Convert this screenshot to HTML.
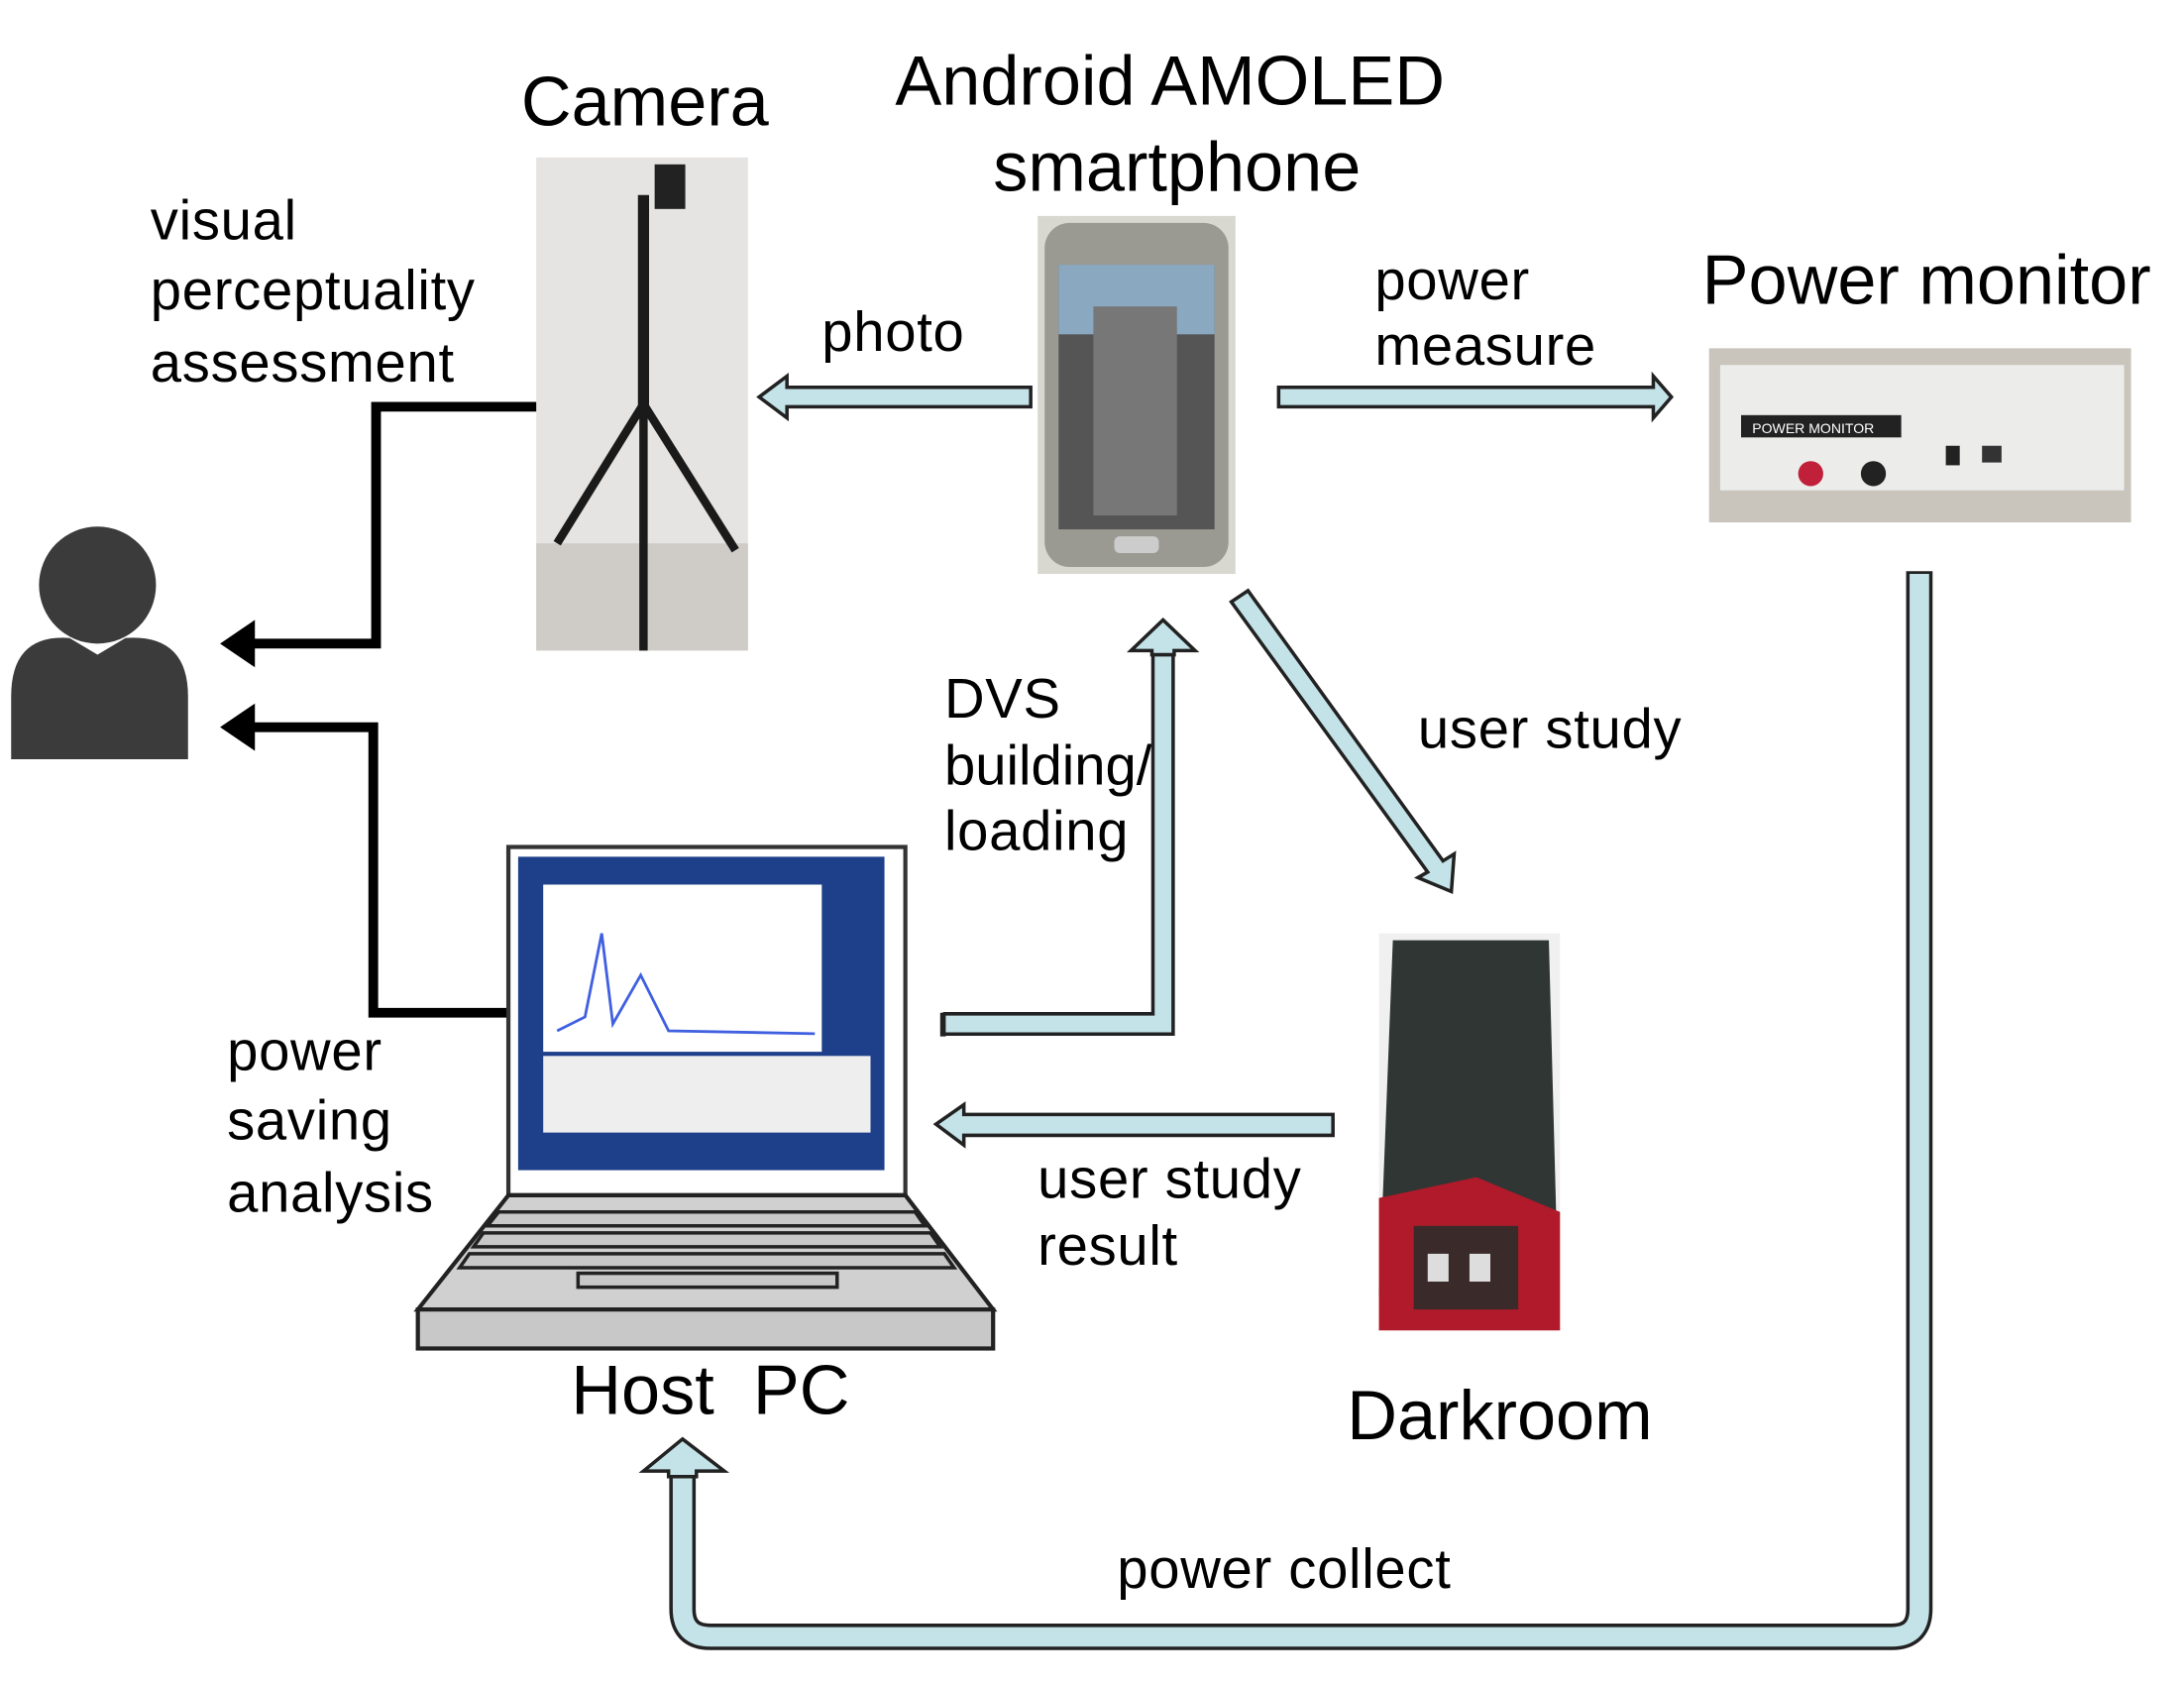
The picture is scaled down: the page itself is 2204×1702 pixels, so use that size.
<!DOCTYPE html>
<html><head><meta charset="utf-8"><style>
html,body{margin:0;padding:0;background:#fff}
svg{display:block}
text{font-family:"Liberation Sans",Arial,sans-serif;fill:#000}
</style></head><body>
<svg width="2204" height="1702" viewBox="0 0 1568 1211" preserveAspectRatio="none" xmlns="http://www.w3.org/2000/svg">
<rect width="1568" height="1211" fill="#fff"/>
<text x="463" y="90" font-size="50" text-anchor="middle">Camera</text>
<text x="840" y="75" font-size="50" text-anchor="middle">Android AMOLED</text>
<text x="845" y="137" font-size="50" text-anchor="middle">smartphone</text>
<text x="1222" y="218" font-size="50">Power monitor</text>
<text x="410" y="1015" font-size="50" xml:space="preserve">Host  PC</text>
<text x="967" y="1033" font-size="50">Darkroom</text>
<g font-size="40" letter-spacing="0.5">
<text x="108" y="172">visual</text>
<text x="108" y="222">perceptuality</text>
<text x="108" y="274">assessment</text>
<text x="590" y="252">photo</text>
<text x="987" y="215">power</text>
<text x="987" y="262">measure</text>
<text x="678" y="515">DVS</text>
<text x="678" y="563" letter-spacing="0">building/</text>
<text x="678" y="610">loading</text>
<text x="1018" y="537">user study</text>
<text x="163" y="768">power</text>
<text x="163" y="818">saving</text>
<text x="163" y="870">analysis</text>
<text x="745" y="860">user study</text>
<text x="745" y="908">result</text>
<text x="802" y="1140">power collect</text>
</g>
<rect x="385" y="113" width="152" height="354" fill="#e6e4e2"/>
<rect x="385" y="390" width="152" height="77" fill="#cfccc8"/>
<rect x="470" y="118" width="22" height="32" fill="#222"/>
<rect x="458" y="140" width="8" height="160" fill="#1a1a1a"/>
<path d="M462 290 L400 390 M462 290 L462 467 M462 290 L528 395" stroke="#1a1a1a" stroke-width="6" fill="none"/>
<rect x="745" y="155" width="142" height="257" fill="#d8d8d0"/>
<rect x="750" y="160" width="132" height="247" rx="18" fill="#9a9a92"/>
<rect x="760" y="190" width="112" height="190" fill="#555"/>
<rect x="760" y="190" width="112" height="50" fill="#8aa8c0"/>
<rect x="785" y="220" width="60" height="150" fill="#777"/>
<rect x="800" y="385" width="32" height="12" rx="4" fill="#ccc"/>
<rect x="1227" y="250" width="303" height="125" fill="#c9c4bc"/>
<rect x="1235" y="262" width="290" height="90" fill="#ecedeb"/>
<rect x="1250" y="298" width="115" height="16" fill="#222"/>
<text x="1258" y="311" font-size="10" style="fill:#fff">POWER MONITOR</text>
<circle cx="1300" cy="340" r="9" fill="#c0203a"/>
<circle cx="1345" cy="340" r="9" fill="#222"/>
<rect x="1397" y="320" width="10" height="14" fill="#222"/>
<rect x="1423" y="320" width="14" height="12" fill="#333"/>
<rect x="990" y="670" width="130" height="285" fill="#f0f0f0"/>
<path d="M1000 675 L1112 675 L1118 900 L990 930 Z" fill="#2f3634"/>
<path d="M990 860 L1060 845 L1120 870 L1120 955 L990 955 Z" fill="#b01a2a"/>
<rect x="1015" y="880" width="75" height="60" fill="#3a2a2a"/>
<rect x="1025" y="900" width="15" height="20" fill="#ddd"/>
<rect x="1055" y="900" width="15" height="20" fill="#ddd"/>
<circle cx="70" cy="420" r="42" fill="#3b3b3b"/>
<path d="M8 500 Q8 455 50 458 L70 470 L90 458 Q135 455 135 500 L135 545 L8 545 Z" fill="#3b3b3b"/>
<path d="M385 292 L270 292 L270 462 L180 462" stroke="#000" stroke-width="7" fill="none"/>
<polygon points="158,462 183,445 183,479" fill="#000"/>
<path d="M365 727 L268 727 L268 522 L180 522" stroke="#000" stroke-width="7" fill="none"/>
<polygon points="158,522 183,505 183,539" fill="#000"/>
<rect x="365" y="608" width="285" height="250" fill="#fff" stroke="#333" stroke-width="3"/>
<rect x="372" y="615" width="263" height="225" fill="#1e3f8a"/>
<rect x="390" y="635" width="200" height="120" fill="#fff"/>
<rect x="390" y="758" width="235" height="55" fill="#eee"/>
<polyline points="400,740 420,730 432,670 440,735 460,700 480,740 585,742" stroke="#4060e0" stroke-width="2" fill="none"/>
<polygon points="300,940 365,858 650,858 713,940" fill="#d0d0d0" stroke="#222" stroke-width="3"/>
<rect x="300" y="940" width="413" height="28" fill="#c8c8c8" stroke="#222" stroke-width="3"/>
<g fill="#c8c8c8" stroke="#222" stroke-width="2.5">
<polygon points="358,870 657,870 664,880 350,880"/>
<polygon points="347,885 668,885 675,895 340,895"/>
<polygon points="337,900 678,900 685,910 330,910"/>
<rect x="415" y="914" width="186" height="10"/>
</g>
<g stroke="#222" stroke-width="2.5" fill="#c4e3e8" stroke-linejoin="miter">
<polygon points="740,278 565,278 565,270 545,285 565,300 565,292 740,292"/>
<polygon points="918,278 1187,278 1187,270 1200,285 1187,300 1187,292 918,292"/>
<polygon points="957,800 692,800 692,793 672,807 692,822 692,815 957,815"/>
<polygon points="884,432 896,424 1036,618 1044,613 1042,640 1018,630 1025,626"/>
</g>
<path d="M677 735 L835 735 L835 465" stroke="#222" stroke-width="17" fill="none"/>
<path d="M677 735 L835 735 L835 465" stroke="#c4e3e8" stroke-width="12" fill="none"/>
<rect x="675" y="727" width="4" height="17" fill="#222"/>
<polygon points="835,445 858,467 843,467 843,470 827,470 827,467 812,467" fill="#c4e3e8" stroke="#222" stroke-width="2.5"/>
<path d="M1378 410 L1378 1155 Q1378 1175 1358 1175 L510 1175 Q490 1175 490 1155 L490 1055" stroke="#222" stroke-width="19" fill="none"/>
<path d="M1378 412 L1378 1155 Q1378 1175 1358 1175 L510 1175 Q490 1175 490 1155 L490 1052" stroke="#c4e3e8" stroke-width="14" fill="none"/>
<polygon points="490,1033 520,1056 500,1056 500,1060 480,1060 480,1056 462,1056" fill="#c4e3e8" stroke="#222" stroke-width="2.5"/>
</svg>
</body></html>
